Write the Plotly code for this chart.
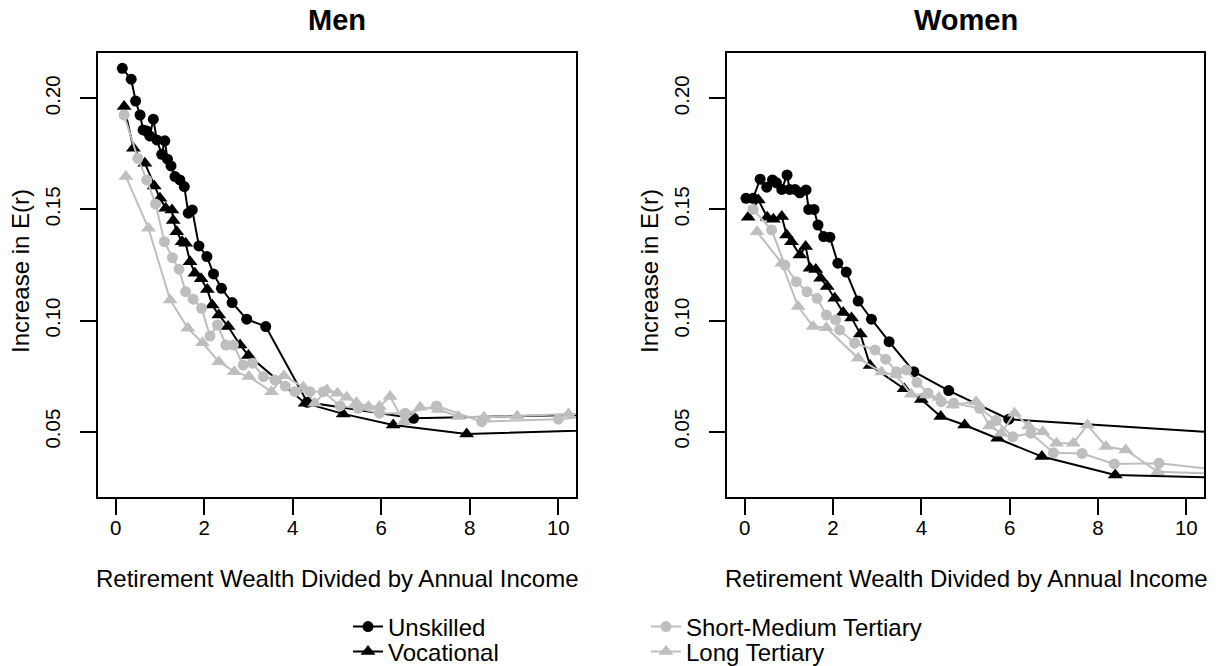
import plotly.graph_objects as go

# Men: increase in E(r) against retirement wealth / annual income
men_unskilled_x = [0.15, 0.35, 0.45, 0.55, 0.62, 0.70, 0.77, 0.85, 0.93, 1.04, 1.11, 1.17, 1.25, 1.34, 1.45,
                   1.55, 1.64, 1.73, 1.88, 2.06, 2.21, 2.39, 2.63, 2.96, 3.39, 4.33, 6.73, 12.5]
men_unskilled_y = [0.2135, 0.2086, 0.1988, 0.1925, 0.1858, 0.1853, 0.1831, 0.1906, 0.1813, 0.1748, 0.1809,
                   0.1726, 0.1696, 0.1648, 0.1633, 0.1603, 0.1483, 0.1498, 0.1336, 0.1288, 0.1210, 0.1145,
                   0.1081, 0.1006, 0.0973, 0.0632, 0.0560, 0.0584]

men_vocational_x = [0.19, 0.40, 0.66, 0.87, 1.00, 1.13, 1.27, 1.30, 1.38, 1.50, 1.58, 1.68, 1.79, 1.93, 2.07,
                    2.18, 2.33, 2.54, 2.81, 3.00, 4.28, 5.14, 6.27, 7.93, 12.5]
men_vocational_y = [0.1963, 0.1775, 0.1708, 0.1606, 0.1550, 0.1505, 0.1498, 0.1450, 0.1400, 0.1355, 0.1348,
                    0.1265, 0.1213, 0.1188, 0.1140, 0.1070, 0.1025, 0.0973, 0.0890, 0.0843, 0.0628, 0.0580,
                    0.0530, 0.0490, 0.0516]

men_shortmed_x = [0.19, 0.50, 0.70, 0.90, 1.10, 1.28, 1.43, 1.58, 1.75, 1.94, 2.13, 2.30, 2.49, 2.66, 2.88,
                  3.09, 3.34, 3.60, 3.83, 4.05, 4.39, 4.69, 5.07, 5.48, 5.96, 6.54, 7.25, 8.27, 10.00, 10.8]
men_shortmed_y = [0.1925, 0.1730, 0.1633, 0.1525, 0.1355, 0.1283, 0.1231, 0.1130, 0.1096, 0.1055, 0.0930,
                  0.0980, 0.0890, 0.0890, 0.0800, 0.0808, 0.0748, 0.0733, 0.0705, 0.0680, 0.0680, 0.0680,
                  0.0616, 0.0605, 0.0583, 0.0583, 0.0616, 0.0545, 0.0556, 0.0572]

men_long_x = [0.23, 0.74, 1.23, 1.63, 1.96, 2.33, 2.68, 3.01, 3.52, 3.80, 4.24, 4.50, 4.77, 5.01, 5.22, 5.44,
              5.71, 5.96, 6.20, 6.51, 6.88, 7.29, 7.74, 8.32, 9.07, 10.23, 11.5]
men_long_y = [0.1648, 0.1415, 0.1093, 0.0965, 0.0900, 0.0815, 0.0770, 0.0748, 0.0680, 0.0752, 0.0700, 0.0628,
              0.0688, 0.0673, 0.0655, 0.0630, 0.0613, 0.0613, 0.0658, 0.0545, 0.0610, 0.0600, 0.0568, 0.0565,
              0.0570, 0.0580, 0.0577]

# Women
women_unskilled_x = [0.03, 0.19, 0.35, 0.50, 0.63, 0.72, 0.84, 0.96, 1.02, 1.14, 1.25, 1.39, 1.45, 1.57, 1.66,
                     1.79, 1.93, 2.11, 2.30, 2.57, 2.87, 3.27, 3.83, 4.62, 5.98, 12.5]
women_unskilled_y = [0.1550, 0.1550, 0.1636, 0.1600, 0.1633, 0.1620, 0.1590, 0.1655, 0.1590, 0.1590, 0.1575,
                     0.1588, 0.1500, 0.1500, 0.1430, 0.1378, 0.1375, 0.1258, 0.1218, 0.1088, 0.1006, 0.0905,
                     0.0770, 0.0685, 0.0556, 0.0473]

women_vocational_x = [0.08, 0.31, 0.51, 0.65, 0.84, 0.95, 1.06, 1.25, 1.38, 1.48, 1.61, 1.72, 1.87, 2.04, 2.23,
                      2.42, 2.62, 2.84, 3.61, 4.00, 4.44, 4.98, 5.73, 6.73, 8.39, 12.5]
women_vocational_y = [0.1465, 0.1543, 0.1465, 0.1456, 0.1468, 0.1385, 0.1355, 0.1295, 0.1333, 0.1235, 0.1230,
                      0.1190, 0.1153, 0.1100, 0.1036, 0.1012, 0.0940, 0.0798, 0.0693, 0.0645, 0.0568, 0.0530,
                      0.0470, 0.0388, 0.0305, 0.0284]

women_shortmed_x = [0.19, 0.61, 0.91, 1.17, 1.41, 1.64, 1.85, 2.06, 2.15, 2.49, 2.95, 3.19, 3.44, 3.66, 3.90,
                    4.15, 4.45, 4.73, 5.32, 5.69, 6.07, 6.48, 6.99, 7.64, 8.37, 9.38, 11.0]
women_shortmed_y = [0.1500, 0.1408, 0.1250, 0.1175, 0.1130, 0.1100, 0.1025, 0.1003, 0.0958, 0.0898, 0.0868,
                    0.0826, 0.0770, 0.0778, 0.0722, 0.0673, 0.0635, 0.0628, 0.0605, 0.0550, 0.0477, 0.0493,
                    0.0405, 0.0402, 0.0355, 0.0358, 0.0322]

women_long_x = [0.28, 0.84, 1.21, 1.55, 1.85, 2.57, 3.10, 3.42, 3.77, 4.11, 4.40, 4.71, 5.24, 5.54, 5.81, 6.11,
                6.43, 6.75, 7.06, 7.44, 7.76, 8.18, 8.63, 9.35, 12.0]
women_long_y = [0.1400, 0.1258, 0.1063, 0.0973, 0.0968, 0.0830, 0.0768, 0.0755, 0.0668, 0.0665, 0.0654, 0.0620,
                0.0635, 0.0526, 0.0493, 0.0583, 0.0526, 0.0500, 0.0448, 0.0448, 0.0530, 0.0433, 0.0418, 0.0320,
                0.0302]

group_names = ["Unskilled", "Vocational", "Short-Medium Tertiary", "Long Tertiary"]
group_colors = ["#000000", "#000000", "#BEBEBE", "#BEBEBE"]
group_symbols = ["circle", "triangle-up", "circle", "triangle-up"]
group_sizes = [11, 13, 11, 13]

x_ticks = [0, 2, 4, 6, 8, 10]
y_ticks = [0.05, 0.10, 0.15, 0.20]
y_tick_text = ["0.05", "0.10", "0.15", "0.20"]

FONT = "Liberation Sans, Arial, Helvetica, sans-serif"

panels = [
    ("x", "y", [(men_unskilled_x, men_unskilled_y), (men_vocational_x, men_vocational_y),
                (men_shortmed_x, men_shortmed_y), (men_long_x, men_long_y)]),
    ("x2", "y2", [(women_unskilled_x, women_unskilled_y), (women_vocational_x, women_vocational_y),
                  (women_shortmed_x, women_shortmed_y), (women_long_x, women_long_y)]),
]

legend_ids = ["legend", "legend2", "legend3", "legend4"]

fig = go.Figure()
for p, (xa, ya, series) in enumerate(panels):
    for g, (xs, ys) in enumerate(series):
        fig.add_trace(go.Scatter(
            x=xs, y=ys, xaxis=xa, yaxis=ya, mode="lines+markers",
            name=group_names[g],
            line=dict(color=group_colors[g], width=2),
            marker=dict(color=group_colors[g], symbol=group_symbols[g], size=group_sizes[g],
                        line=dict(width=0)),
            cliponaxis=True,
            showlegend=(p == 0),
            legend=legend_ids[g],
        ))

axis_common = dict(
    showgrid=False, zeroline=False, showline=True, mirror=True,
    linecolor="black", linewidth=1.5, ticks="outside", ticklen=16, tickwidth=1.5,
    tickcolor="black", tickfont=dict(family=FONT, size=20.5, color="black"),
)

x_dom_men = [98 / 1225, 576 / 1225]
x_dom_women = [727 / 1225, 1204 / 1225]
y_dom = [1 - 497 / 666, 1 - 53 / 666]

fig.update_layout(
    width=1225, height=666,
    margin=dict(l=0, r=0, t=0, b=0, autoexpand=False),
    paper_bgcolor="white", plot_bgcolor="white",
    font=dict(family=FONT, color="black"),
    xaxis=dict(domain=x_dom_men, range=[-0.4, 10.4], tickvals=x_ticks, anchor="y",
               ticklabelstandoff=-4, **axis_common),
    yaxis=dict(domain=y_dom, range=[0.0206, 0.2204], tickvals=y_ticks, ticktext=y_tick_text,
               tickangle=-90, anchor="x", ticklabelstandoff=12, **axis_common),
    xaxis2=dict(domain=x_dom_women, range=[-0.4, 10.4], tickvals=x_ticks, anchor="y2",
                ticklabelstandoff=-4, **axis_common),
    yaxis2=dict(domain=y_dom, range=[0.0206, 0.2204], tickvals=y_ticks, ticktext=y_tick_text,
                tickangle=-90, anchor="x2", ticklabelstandoff=12, **axis_common),
)

# one legend per entry, arranged in two columns below the panels
legend_pos = [(348 / 1225, 1 - 627 / 666), (348 / 1225, 1 - 652 / 666),
              (646 / 1225, 1 - 627 / 666), (646 / 1225, 1 - 652 / 666)]
for lid, (lx, ly) in zip(legend_ids, legend_pos):
    fig.update_layout(**{lid: dict(x=lx, y=ly, xanchor="left", yanchor="middle",
                                   xref="paper", yref="paper", bgcolor="rgba(0,0,0,0)",
                                   borderwidth=0, font=dict(family=FONT, size=24, color="black"),
                                   itemwidth=30)})

annotations = []
for cx, title, ylab_x in [((98 + 576) / 2 / 1225, "Men", 20 / 1225),
                          ((727 + 1204) / 2 / 1225, "Women", 649 / 1225)]:
    annotations.append(dict(x=cx, y=1 - 20 / 666, xref="paper", yref="paper", text="<b>" + title + "</b>",
                            showarrow=False, font=dict(family=FONT, size=29, color="black"),
                            xanchor="center", yanchor="middle"))
    annotations.append(dict(x=cx, y=1 - 578 / 666, xref="paper", yref="paper",
                            text="Retirement Wealth Divided by Annual Income", showarrow=False,
                            font=dict(family=FONT, size=24, color="black"), xanchor="center", yanchor="middle"))
    annotations.append(dict(x=ylab_x, y=1 - 271 / 666, xref="paper", yref="paper", text="Increase in E(r)",
                            showarrow=False, textangle=-90, font=dict(family=FONT, size=24, color="black"),
                            xanchor="center", yanchor="middle"))
fig.update_layout(annotations=annotations)

fig.write_html("out.html")
